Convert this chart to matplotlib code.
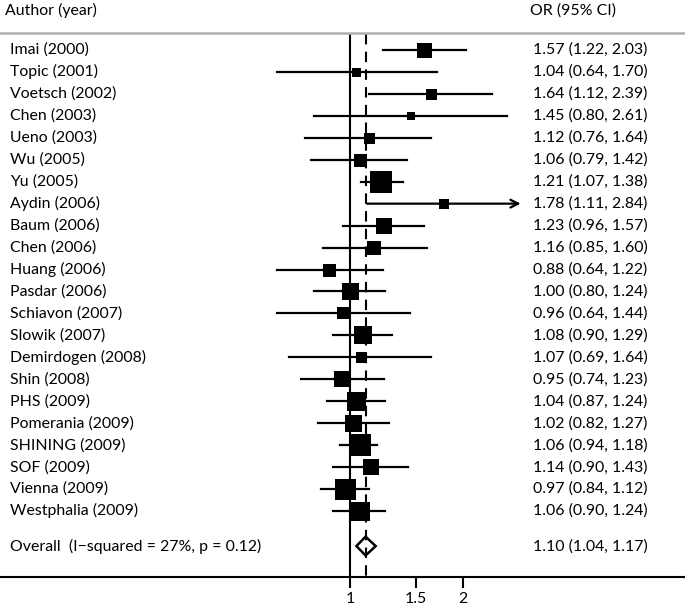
import matplotlib
matplotlib.use("Agg")
import matplotlib.pyplot as plt
import numpy as np
from matplotlib.transforms import blended_transform_factory

plt.rcParams['font.family'] = ['Lato', 'DejaVu Sans']

studies = ["Imai (2000)", "Topic (2001)", "Voetsch (2002)", "Chen (2003)", "Ueno (2003)",
           "Wu (2005)", "Yu (2005)", "Aydin (2006)", "Baum (2006)", "Chen (2006)",
           "Huang (2006)", "Pasdar (2006)", "Schiavon (2007)", "Slowik (2007)",
           "Demirdogen (2008)", "Shin (2008)", "PHS (2009)", "Pomerania (2009)",
           "SHINING (2009)", "SOF (2009)", "Vienna (2009)", "Westphalia (2009)"]
odds = [1.57, 1.04, 1.64, 1.45, 1.12, 1.06, 1.21, 1.78, 1.23, 1.16, 0.88,
        1.00, 0.96, 1.08, 1.07, 0.95, 1.04, 1.02, 1.06, 1.14, 0.97, 1.06]
lower = [1.22, 0.64, 1.12, 0.80, 0.76, 0.79, 1.07, 1.11, 0.96, 0.85, 0.64,
         0.80, 0.64, 0.90, 0.69, 0.74, 0.87, 0.82, 0.94, 0.90, 0.84, 0.90]
upper = [2.03, 1.70, 2.39, 2.61, 1.64, 1.42, 1.38, 2.84, 1.57, 1.60, 1.22,
         1.24, 1.44, 1.29, 1.64, 1.23, 1.24, 1.27, 1.18, 1.43, 1.12, 1.24]
# box side in pixels (study weight)
box_px = [15, 9, 11, 8, 11, 13, 22, 10, 16, 14, 13, 17, 12, 18, 11, 16, 19, 17, 23, 16, 21, 19]
overall = (1.10, 1.04, 1.17)
overall_label = "Overall  (I\u2212squared = 27%, p = 0.12)"
clipped = [7]  # CI drawn with an arrow

W, H = 685, 605
fig = plt.figure(figsize=(W / 100, H / 100), dpi=100)
ax = fig.add_axes([0, 28 / H, 1, 1 - 28 / H])

ppl = 163.5  # pixels per ln unit
ax.set_xscale('log')
ax.set_xlim(np.exp(-350 / ppl), np.exp((W - 350) / ppl))
row_h = 21.95
ax.set_ylim((577 - 50) / row_h, -50 / row_h)

n = len(studies)
ys = np.arange(n)
y_over = 22.6

ax.vlines(1, -0.75, ax.get_ylim()[0], color='black', lw=1.5, zorder=1)
ax.vlines(overall[0], -0.75, ax.get_ylim()[0], color='black', lw=1.5,
          linestyles=(0, (5, 3.5)), zorder=1)

for i in range(n):
    if i in clipped:
        ax.annotate('', xy=(upper[i], ys[i]), xytext=(lower[i], ys[i]),
                    arrowprops=dict(arrowstyle='->', lw=1.6, color='black',
                                    mutation_scale=14, shrinkA=0, shrinkB=0), zorder=2)
    else:
        ax.plot([lower[i], upper[i]], [ys[i], ys[i]], color='black', lw=1.6, zorder=2)
    ax.plot(odds[i], ys[i], marker='s', ms=box_px[i] * 0.72, color='black', mew=0, zorder=3)

# overall diamond
dx = [overall[1], overall[0], overall[2], overall[0], overall[1]]
dy = [y_over, y_over - 0.43, y_over, y_over + 0.43, y_over]
ax.fill(dx, dy, facecolor='white', edgecolor='black', lw=1.8, zorder=0.5)

trans = blended_transform_factory(ax.transAxes, ax.transData)
fs = 11.4
ax.text(5 / W, -1.8, "Author (year)", transform=trans, fontsize=fs, va='center')
ax.text(530 / W, -1.8, "OR (95% CI)", transform=trans, fontsize=fs, va='center')
for i in range(n):
    ax.text(10 / W, ys[i], studies[i], transform=trans, fontsize=fs, va='center')
    ax.text(533 / W, ys[i], "%.2f (%.2f, %.2f)" % (odds[i], lower[i], upper[i]),
            transform=trans, fontsize=fs, va='center')
ax.text(10 / W, y_over, overall_label, transform=trans, fontsize=fs, va='center')
ax.text(533 / W, y_over, "%.2f (%.2f, %.2f)" % overall, transform=trans, fontsize=fs, va='center')

ax.axhline(-0.77, color='#b0b0b0', lw=1.8)

for s in ['top', 'left', 'right']:
    ax.spines[s].set_visible(False)
ax.spines['bottom'].set_linewidth(1.5)
ax.set_yticks([])
ax.set_xticks([1, 1.5, 2])
ax.set_xticklabels(['1', '1.5', '2'])
ax.xaxis.set_minor_locator(plt.NullLocator())
ax.tick_params(axis='x', length=8, width=1.5, labelsize=fs, pad=3)

fig.savefig('out.png', dpi=100)
